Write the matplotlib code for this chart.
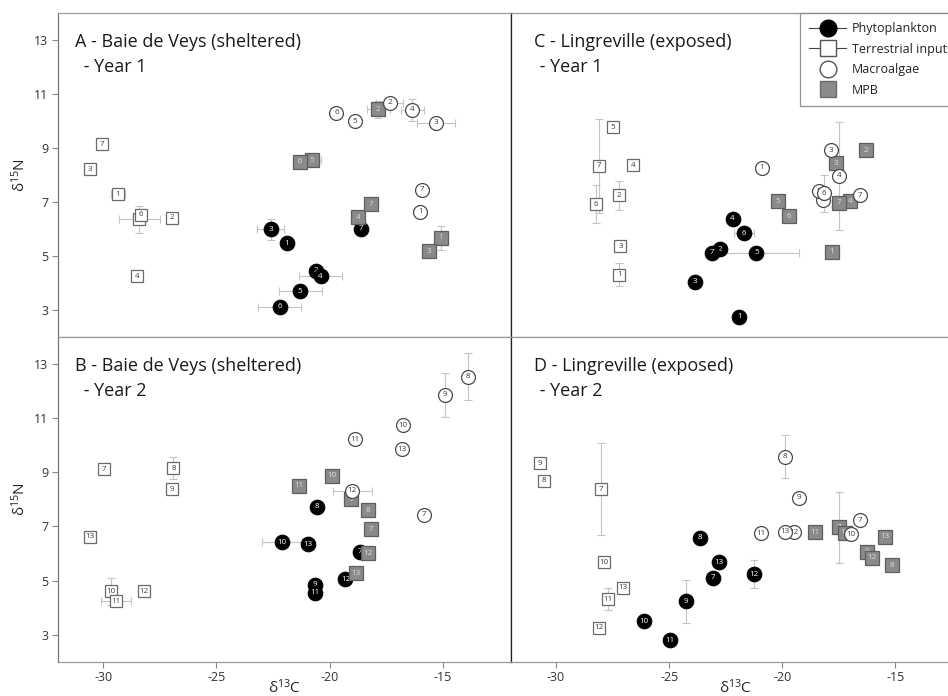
import matplotlib.pyplot as plt
from matplotlib.lines import Line2D

plt.rcParams['font.family'] = ['Open Sans', 'DejaVu Sans']
plt.rcParams['axes.unicode_minus'] = False
plt.rcParams['mathtext.default'] = 'regular'

# ---- A: Baie de Veys, year 1 (samples 1-7) ----
a_ids = [1, 2, 3, 4, 5, 6, 7]
a_phyto_x = [-21.9, -20.6, -22.6, -20.4, -21.3, -22.2, -18.6]
a_phyto_y = [5.46, 4.45, 5.98, 4.25, 3.70, 3.12, 6.00]
a_phyto_xerr = [0, 0, 0.6, 0.95, 0.95, 0.95, 0]
a_phyto_yerr = [0, 0, 0.4, 0, 0, 0.2, 0]
a_terr_x = [-29.35, -26.95, -30.6, -28.5, -28.4, -28.35, -30.05]
a_terr_y = [7.28, 6.42, 8.20, 4.25, 6.35, 6.52, 9.13]
a_terr_xerr = [0.3, 0, 0, 0, 0.92, 0, 0]
a_terr_yerr = [0, 0, 0, 0, 0.5, 0, 0.15]
a_macro_x = [-16.0, -17.35, -15.3, -16.35, -18.9, -19.7, -15.9]
a_macro_y = [6.63, 10.67, 9.92, 10.41, 9.99, 10.30, 7.45]
a_macro_xerr = [0, 0.6, 0.84, 0.5, 0, 0, 0]
a_macro_yerr = [0, 0, 0, 0.4, 0, 0, 0]
a_mpb_x = [-15.1, -17.85, -15.6, -18.75, -20.8, -21.3, -18.15]
a_mpb_y = [5.67, 10.42, 5.18, 6.44, 8.54, 8.48, 6.91]
a_mpb_xerr = [0, 0.5, 0, 0, 0.4, 0, 0]
a_mpb_yerr = [0.45, 0.3, 0, 0, 0, 0, 0]

# ---- C: Lingreville, year 1 (samples 1-7) ----
c_ids = [1, 2, 3, 4, 5, 6, 7]
c_phyto_x = [-21.9, -22.75, -23.85, -22.2, -21.15, -21.7, -23.1]
c_phyto_y = [2.75, 5.24, 4.04, 6.38, 5.11, 5.83, 5.12]
c_phyto_xerr = [0, 0, 0, 0, 1.9, 0.45, 0]
c_phyto_yerr = [0, 0, 0, 0, 0, 0, 0]
c_terr_x = [-27.2, -27.2, -27.15, -26.6, -27.5, -28.25, -28.1]
c_terr_y = [4.30, 7.24, 5.36, 8.35, 9.77, 6.91, 8.33]
c_terr_xerr = [0, 0, 0, 0, 0, 0, 0]
c_terr_yerr = [0.42, 0.54, 0, 0, 0, 0.7, 1.75]
c_macro_x = [-20.9, -18.2, -17.85, -17.5, -18.4, -18.15, -16.55]
c_macro_y = [8.27, 7.08, 8.91, 7.96, 7.40, 7.31, 7.24]
c_macro_xerr = [0, 0, 0, 0, 0, 0, 0]
c_macro_yerr = [0, 0, 0, 2.0, 0, 0.67, 0]
c_mpb_x = [-17.8, -16.3, -17.65, -17.0, -20.2, -19.7, -17.5]
c_mpb_y = [5.15, 8.91, 8.42, 7.02, 7.02, 6.47, 6.97]
c_mpb_xerr = [0, 0, 0, 0, 0, 0, 0]
c_mpb_yerr = [0, 0, 0, 0, 0, 0, 0]

# ---- B: Baie de Veys, year 2 (samples 7-13) ----
b_ids = [7, 8, 9, 10, 11, 12, 13]
b_phyto_x = [-18.65, -20.55, -20.65, -22.1, -20.65, -19.3, -20.95]
b_phyto_y = [6.06, 7.73, 4.85, 6.41, 4.54, 5.05, 6.34]
b_phyto_xerr = [0, 0, 0, 0.87, 0.2, 0, 0]
b_phyto_yerr = [0, 0, 0, 0, 0, 0, 0]
b_terr_x = [-29.95, -26.9, -26.95, -29.65, -29.45, -28.2, -30.6]
b_terr_y = [9.12, 9.15, 8.37, 4.61, 4.24, 4.60, 6.61]
b_terr_xerr = [0, 0, 0, 0, 0.66, 0, 0]
b_terr_yerr = [0.15, 0.4, 0, 0.5, 0, 0, 0]
b_macro_x = [-15.85, -13.9, -14.9, -16.75, -18.9, -19.0, -16.8]
b_macro_y = [7.44, 12.54, 11.86, 10.73, 10.22, 8.32, 9.86]
b_macro_xerr = [0, 0, 0, 0, 0, 0.86, 0]
b_macro_yerr = [0, 0.88, 0.82, 0, 0, 0, 0]
b_mpb_x = [-18.15, -18.3, -19.05, -19.9, -21.35, -18.3, -18.85]
b_mpb_y = [6.90, 7.60, 8.01, 8.87, 8.50, 6.00, 5.26]
b_mpb_xerr = [0, 0, 0, 0, 0, 0, 0]
b_mpb_yerr = [0, 0, 0, 0, 0, 0, 0]

# ---- D: Lingreville, year 2 (samples 7-13) ----
d_ids = [7, 8, 9, 10, 11, 12, 13]
d_phyto_x = [-23.05, -23.65, -24.25, -26.1, -24.95, -21.25, -22.8]
d_phyto_y = [5.10, 6.59, 4.23, 3.50, 2.79, 5.23, 5.67]
d_phyto_xerr = [0, 0, 0, 0, 0, 0, 0]
d_phyto_yerr = [0, 0, 0.8, 0, 0, 0.52, 0]
d_terr_x = [-28.0, -30.55, -30.7, -27.9, -27.7, -28.1, -27.05]
d_terr_y = [8.38, 8.69, 9.33, 5.67, 4.31, 3.26, 4.73]
d_terr_xerr = [0, 0, 0, 0, 0, 0, 0]
d_terr_yerr = [1.7, 0, 0, 0, 0.4, 0, 0]
d_macro_x = [-16.55, -19.9, -19.25, -16.95, -20.95, -19.5, -19.9]
d_macro_y = [7.23, 9.58, 8.06, 6.71, 6.74, 6.78, 6.80]
d_macro_xerr = [0, 0, 0, 0, 0, 0, 0]
d_macro_yerr = [0, 0.8, 0, 0, 0, 0, 0]
d_mpb_x = [-17.5, -15.15, -16.25, -17.25, -18.55, -16.05, -15.45]
d_mpb_y = [6.96, 5.57, 6.06, 6.76, 6.78, 5.84, 6.61]
d_mpb_xerr = [0, 0, 0, 0, 0, 0, 0]
d_mpb_yerr = [1.3, 0, 0, 0, 0, 0, 0]

panel_titles = ['A - Baie de Veys (sheltered)', 'B - Baie de Veys (sheltered)',
                'C - Lingreville (exposed)', 'D - Lingreville (exposed)']
panel_years = [' - Year 1', ' - Year 2', ' - Year 1', ' - Year 2']
source_names = ['Phytoplankton', 'Terrestrial inputs', 'Macroalgae', 'MPB']

x_ticks = [-30, -25, -20, -15]
y_ticks = [3, 5, 7, 9, 11, 13]

# marker look per source: marker, face, edge, size, number colour
styles = {
    'terr':  dict(marker='s', mfc='white', mec='#6a6a6a', ms=9.0, txt='#3a3a3a', mew=0.9),
    'phyto': dict(marker='o', mfc='black', mec='black', ms=10.5, txt='white', mew=0.8),
    'mpb':   dict(marker='s', mfc='#8a8a8a', mec='#5e5e5e', ms=9.5, txt='#dedede', mew=0.9),
    'macro': dict(marker='o', mfc='white', mec='#4a4a4a', ms=10.0, txt='#3a3a3a', mew=0.9),
}

panels = {
    'A': (a_ids, {'terr': (a_terr_x, a_terr_y, a_terr_xerr, a_terr_yerr),
                  'phyto': (a_phyto_x, a_phyto_y, a_phyto_xerr, a_phyto_yerr),
                  'mpb': (a_mpb_x, a_mpb_y, a_mpb_xerr, a_mpb_yerr),
                  'macro': (a_macro_x, a_macro_y, a_macro_xerr, a_macro_yerr)}),
    'B': (b_ids, {'terr': (b_terr_x, b_terr_y, b_terr_xerr, b_terr_yerr),
                  'phyto': (b_phyto_x, b_phyto_y, b_phyto_xerr, b_phyto_yerr),
                  'mpb': (b_mpb_x, b_mpb_y, b_mpb_xerr, b_mpb_yerr),
                  'macro': (b_macro_x, b_macro_y, b_macro_xerr, b_macro_yerr)}),
    'C': (c_ids, {'terr': (c_terr_x, c_terr_y, c_terr_xerr, c_terr_yerr),
                  'phyto': (c_phyto_x, c_phyto_y, c_phyto_xerr, c_phyto_yerr),
                  'mpb': (c_mpb_x, c_mpb_y, c_mpb_xerr, c_mpb_yerr),
                  'macro': (c_macro_x, c_macro_y, c_macro_xerr, c_macro_yerr)}),
    'D': (d_ids, {'terr': (d_terr_x, d_terr_y, d_terr_xerr, d_terr_yerr),
                  'phyto': (d_phyto_x, d_phyto_y, d_phyto_xerr, d_phyto_yerr),
                  'mpb': (d_mpb_x, d_mpb_y, d_mpb_xerr, d_mpb_yerr),
                  'macro': (d_macro_x, d_macro_y, d_macro_xerr, d_macro_yerr)}),
}

W, H = 948, 696
fig = plt.figure(figsize=(W / 100, H / 100), dpi=100)

# axes boxes in pixels: left, top, right, bottom
boxes = {
    'A': (58, 12.7, 510.7, 337),
    'C': (510.7, 12.7, 963.4, 337),
    'B': (58, 337, 510.7, 661.7),
    'D': (510.7, 337, 963.4, 661.7),
}
title_pos = {'A': (0.037, 0.047), 'B': (0.037, 0.047), 'C': (0.051, 0.053), 'D': (0.051, 0.053)}
title_idx = {'A': 0, 'B': 1, 'C': 2, 'D': 3}

err_col = '#c4c4c4'

for key, (l, t, r, b) in boxes.items():
    ax = fig.add_axes([l / W, 1 - b / H, (r - l) / W, (b - t) / H])
    ax.set_xlim(-32, -12)
    ax.set_ylim(2, 14)
    ids, groups = panels[key]
    z = 3
    for src in ['terr', 'phyto', 'mpb', 'macro']:
        xs, ys, xe, ye = groups[src]
        st = styles[src]
        for i, n in enumerate(ids):
            if xe[i] or ye[i]:
                ax.errorbar(xs[i], ys[i], xerr=xe[i] or None, yerr=ye[i] or None,
                            fmt='none', ecolor=err_col, elinewidth=0.8,
                            capsize=3, capthick=0.8, zorder=2)
            ax.plot(xs[i], ys[i], marker=st['marker'], mfc=st['mfc'], mec=st['mec'],
                    ms=st['ms'], mew=st['mew'], ls='none', zorder=z)
            ax.text(xs[i], ys[i], str(n), ha='center', va='center',
                    fontsize=5.8, color=st['txt'], zorder=z + 0.5)
            z += 1

    tx1, tx2 = title_pos[key]
    ax.text(tx1, 0.910, panel_titles[title_idx[key]], transform=ax.transAxes,
            fontsize=13, color='#1a1a1a', va='center', ha='left')
    ax.text(tx2, 0.833, panel_years[title_idx[key]], transform=ax.transAxes,
            fontsize=13, color='#1a1a1a', va='center', ha='left')

    for side in ['top', 'bottom', 'left', 'right']:
        ax.spines[side].set_color('#9a9a9a')
        ax.spines[side].set_linewidth(0.9)
    if key in ('A', 'B'):
        ax.spines['right'].set_color('#222222')
        ax.spines['left'].set_color('#777777')
    else:
        ax.spines['left'].set_color('#222222')

    ax.tick_params(direction='out', length=4, width=0.8, color='#888888',
                   labelsize=9, labelcolor='#333333', pad=3)
    if key in ('A', 'B'):
        ax.set_yticks(y_ticks)
        ax.set_yticklabels([str(v) for v in y_ticks])
    else:
        ax.set_yticks([])
    if key in ('B', 'D'):
        ax.set_xticks(x_ticks)
        ax.set_xticklabels([str(v) for v in x_ticks])
    else:
        ax.set_xticks([])

    if key == 'C':
        handles = [
            Line2D([], [], color='#444444', lw=0.8, marker='o', mfc='black', mec='black', ms=12),
            Line2D([], [], color='#444444', lw=0.8, marker='s', mfc='white', mec='#555555', ms=11),
            Line2D([], [], ls='none', marker='o', mfc='white', mec='#555555', ms=12),
            Line2D([], [], ls='none', marker='s', mfc='#8a8a8a', mec='#6a6a6a', ms=11),
        ]
        leg = ax.legend(handles, source_names, loc='upper left',
                        bbox_to_anchor=(800 / W, 1 - 12.7 / H), bbox_transform=fig.transFigure,
                        fontsize=9, frameon=True, fancybox=False, handlelength=2.9,
                        handletextpad=0.5, labelspacing=0.6, borderpad=0.75,
                        borderaxespad=0)
        leg.get_frame().set_edgecolor('#777777')
        leg.get_frame().set_linewidth(0.9)
        for txt in leg.get_texts():
            txt.set_color('#222222')

# axis titles
for yc in [(12.7 + 337) / 2, (337 + 661.7) / 2]:
    fig.text(20 / W, 1 - yc / H, '\u03b4$^{15}$N', rotation=90, ha='center', va='center',
             fontsize=11, color='#222222')
for xc in [(58 + 510.7) / 2, (510.7 + 963.4) / 2 - 2]:
    fig.text(xc / W, 1 - 688 / H, '\u03b4$^{13}$C', ha='center', va='center',
             fontsize=11, color='#222222')

fig.savefig('out.png', dpi=100, facecolor='white')
